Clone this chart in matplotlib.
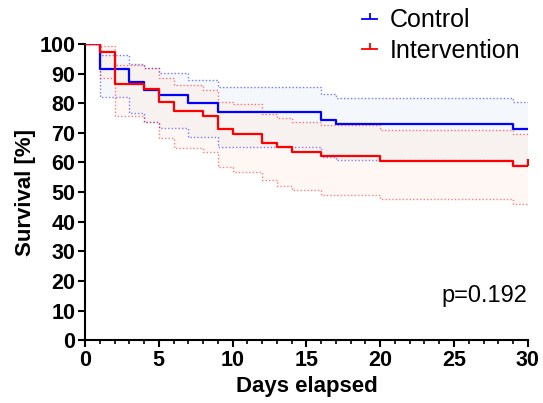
import numpy as np
import matplotlib.pyplot as plt
from matplotlib.lines import Line2D

plt.rcParams['font.family'] = ['Liberation Sans', 'DejaVu Sans']

# step change days and survival values (%)
days_ctrl = [0, 1, 3, 4, 5, 7, 9, 16, 17, 29, 30]
surv_ctrl = [100, 91.5, 87.3, 84.5, 82.9, 80.2, 77.1, 74.3, 72.9, 71.4, 71.4]
upper_ctrl = [100, 96.3, 93.3, 91.8, 90.1, 87.8, 85.6, 83.0, 81.9, 80.5, 80.5]
lower_ctrl = [100, 82.0, 76.8, 73.5, 71.5, 68.5, 65.3, 61.9, 60.7, 59.1, 59.1]

days_int = [0, 1, 2, 4, 5, 6, 8, 9, 10, 12, 13, 14, 16, 20, 29, 30]
surv_int = [100, 97.2, 86.6, 84.7, 80.5, 77.4, 75.8, 71.2, 69.6, 66.7, 65.1, 63.5, 62.0, 60.5, 58.9, 58.9]
upper_int = [100, 99.4, 92.9, 91.8, 88.4, 86.2, 84.5, 80.5, 79.6, 76.5, 75.1, 73.8, 72.5, 70.9, 69.6, 69.6]
lower_int = [100, 88.4, 75.5, 73.8, 68.1, 65.0, 63.6, 58.6, 56.9, 53.9, 52.0, 50.6, 49.0, 47.6, 45.8, 45.8]

# censored at end of follow-up (only intervention shows a tick)
censor_ctrl = []
censor_int = [30]

p_value = 'p=0.192'

fig = plt.figure(figsize=(5.43, 4.03), dpi=100)
ax = fig.add_axes([0.1565, 0.156, 0.8155, 0.735])

groups = [
    ('Control', days_ctrl, surv_ctrl, upper_ctrl, lower_ctrl, censor_ctrl, '#0000ff', '#dce7f5'),
    ('Intervention', days_int, surv_int, upper_int, lower_int, censor_int, '#ff0000', '#ffe6d8'),
]

for name, d, s, up, lo, cens, col, fill in groups:
    ax.fill_between(d, lo, up, step='post', color=fill, alpha=0.3, lw=0)
    ax.step(d, up, where='post', color=col, alpha=0.5, lw=1.0, ls=(0, (1, 1.5)))
    ax.step(d, lo, where='post', color=col, alpha=0.5, lw=1.0, ls=(0, (1, 1.5)))

for name, d, s, up, lo, cens, col, fill in groups:
    ax.step(d, s, where='post', color=col, lw=1.6, zorder=5)
    for c in cens:
        ax.plot(c, np.interp(c, d, s), marker=2, color=col, ms=5, mew=1.6, zorder=5)

ax.set_xlim(0, 30)
ax.set_ylim(0, 100)
ax.set_xticks(np.arange(0, 31, 5))
ax.set_xticks(np.arange(0, 31, 1), minor=True)
ax.set_yticks(np.arange(0, 101, 10))

for sp in ['top', 'right']:
    ax.spines[sp].set_visible(False)
for sp in ['left', 'bottom']:
    ax.spines[sp].set_linewidth(1.5)

ax.tick_params(axis='both', which='major', direction='out', length=5, width=1.5,
               labelsize=15.5, pad=2)
ax.tick_params(axis='x', which='minor', direction='out', length=3, width=1.2)
for lab in ax.get_xticklabels() + ax.get_yticklabels():
    lab.set_fontweight('bold')

ax.set_xlabel('Days elapsed', fontsize=16, fontweight='bold', labelpad=4)
ax.set_ylabel('Survival [%]', fontsize=16, fontweight='bold', labelpad=2)

ax.text(30, 15, p_value, ha='right', va='center', fontsize=17)

handles = [Line2D([], [], color=g[6], lw=1.3, marker=2, ms=4, mew=1.3) for g in groups]
fig.legend(handles, [g[0] for g in groups], loc='upper right',
           bbox_to_anchor=(1.0, 1.035), frameon=False, fontsize=18,
           handlelength=0.6, handletextpad=0.5, labelspacing=0.25)

fig.savefig('out.png', dpi=100)
